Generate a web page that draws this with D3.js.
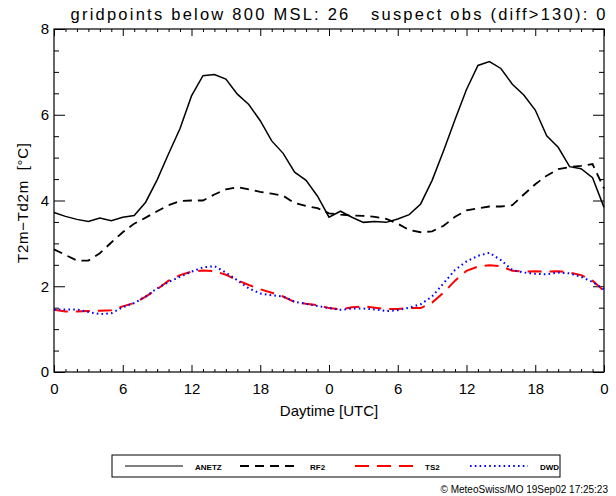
<!DOCTYPE html>
<html>
<head>
<meta charset="utf-8">
<script src="https://cdn.jsdelivr.net/npm/d3@7"></script>
<style>
body { margin: 0; background: #fff; }
svg { display: block; }
.axis text { font-family: "Liberation Sans", Arial, sans-serif; }
</style>
</head>
<body>
<svg id="chart"></svg>
<script>
// hourly values over two days (0..48 h)
var hours = d3.range(0, 49);
var anetz = [3.72,3.63,3.56,3.51,3.59,3.53,3.61,3.65,3.96,4.48,5.09,5.68,6.44,6.91,6.94,6.83,6.48,6.24,5.86,5.39,5.10,4.66,4.47,4.10,3.61,
             3.75,3.61,3.49,3.51,3.49,3.57,3.67,3.92,4.47,5.16,5.89,6.59,7.15,7.24,7.08,6.71,6.46,6.11,5.51,5.24,4.79,4.74,4.53,3.84];
var rf2 = [2.86,2.73,2.60,2.60,2.77,3.02,3.26,3.46,3.60,3.75,3.89,3.99,4.00,4.00,4.14,4.26,4.31,4.26,4.20,4.16,4.11,3.94,3.87,3.82,3.70,
           3.67,3.65,3.64,3.62,3.57,3.46,3.31,3.26,3.28,3.41,3.62,3.77,3.82,3.86,3.86,3.89,4.14,4.38,4.58,4.73,4.78,4.81,4.85,4.28];
var ts2 = [1.45,1.41,1.41,1.42,1.43,1.44,1.53,1.61,1.76,1.93,2.13,2.26,2.34,2.37,2.35,2.27,2.14,2.03,1.93,1.85,1.76,1.63,1.59,1.56,1.49,
           1.46,1.51,1.53,1.50,1.47,1.47,1.49,1.49,1.62,1.85,2.13,2.36,2.46,2.49,2.47,2.36,2.34,2.35,2.34,2.35,2.32,2.26,2.13,1.89];
var dwd = [1.45,1.46,1.46,1.40,1.35,1.37,1.51,1.61,1.76,1.95,2.10,2.22,2.34,2.44,2.47,2.32,2.14,1.95,1.83,1.79,1.76,1.64,1.59,1.54,1.49,
           1.45,1.48,1.48,1.46,1.42,1.44,1.50,1.58,1.76,2.07,2.38,2.58,2.71,2.78,2.61,2.38,2.32,2.29,2.28,2.32,2.30,2.22,2.10,1.93];

var seriesNames = ["ANETZ", "RF2", "TS2", "DWD"];
var xMajor = [0, 6, 12, 18, 24, 30, 36, 42, 48];
var yMajor = [0, 2, 4, 6, 8];
var title = "gridpoints below 800 MSL: 26   suspect obs (diff>130): 0";

var width = 616, height = 496;
var margin = {top: 29, right: 12, bottom: 124, left: 54};
var w = width - margin.left - margin.right;
var h = height - margin.top - margin.bottom;

var svg = d3.select("#chart").attr("width", width).attr("height", height);
var chart = svg.append("g").attr("transform", "translate(" + margin.left + "," + margin.top + ")");

var x = d3.scaleLinear().domain([0, 48]).range([0, w]);
var y = d3.scaleLinear().domain([0, 8]).range([h, 0]);

var xMinor = d3.range(0, 49).filter(function(d) { return d % 6 != 0; });
var yMinor = d3.range(0, 8.01, 0.5).filter(function(d) { return d % 2 != 0; });

function styleAxis(g) {
    g.select(".domain").remove();
    g.selectAll("line").attr("stroke", "#000").attr("stroke-width", 1);
    g.selectAll("text").attr("fill", "#000");
}

// bottom axis, labels in hour of day
chart.append("g").attr("class", "axis").attr("transform", "translate(0," + h + ")")
    .call(d3.axisTop(x).tickValues(xMajor).tickSize(7).tickFormat(""))
    .call(styleAxis);
chart.append("g").attr("class", "axis").attr("transform", "translate(0," + h + ")")
    .call(d3.axisTop(x).tickValues(xMinor).tickSize(3).tickFormat(""))
    .call(styleAxis);
chart.append("g").attr("class", "axis").attr("transform", "translate(0," + (h + 8) + ")")
    .call(d3.axisBottom(x).tickValues(xMajor).tickSize(0).tickPadding(3).tickFormat(function(d) { return d % 24; }))
    .call(styleAxis)
    .selectAll("text").style("font-size", "15px");

// top axis
chart.append("g").attr("class", "axis")
    .call(d3.axisBottom(x).tickValues(xMajor).tickSize(7).tickFormat(""))
    .call(styleAxis);
chart.append("g").attr("class", "axis")
    .call(d3.axisBottom(x).tickValues(xMinor).tickSize(3).tickFormat(""))
    .call(styleAxis);

// left axis
chart.append("g").attr("class", "axis")
    .call(d3.axisRight(y).tickValues(yMajor).tickSize(11).tickFormat(""))
    .call(styleAxis);
chart.append("g").attr("class", "axis")
    .call(d3.axisRight(y).tickValues(yMinor).tickSize(5).tickFormat(""))
    .call(styleAxis);
chart.append("g").attr("class", "axis")
    .call(d3.axisLeft(y).tickValues(yMajor).tickSize(0).tickPadding(5))
    .call(styleAxis)
    .selectAll("text").style("font-size", "15px");

// right axis
chart.append("g").attr("class", "axis").attr("transform", "translate(" + w + ",0)")
    .call(d3.axisLeft(y).tickValues(yMajor).tickSize(11).tickFormat(""))
    .call(styleAxis);
chart.append("g").attr("class", "axis").attr("transform", "translate(" + w + ",0)")
    .call(d3.axisLeft(y).tickValues(yMinor).tickSize(5).tickFormat(""))
    .call(styleAxis);

chart.append("rect")
    .attr("width", w).attr("height", h)
    .attr("fill", "none").attr("stroke", "#000").attr("stroke-width", 1.2);

// lines
var styles = [
    {data: anetz, color: "#000", dash: null, sw: 1.5},
    {data: rf2, color: "#000", dash: "9,6", sw: 1.8},
    {data: ts2, color: "#ff0000", dash: "14,8", sw: 2},
    {data: dwd, color: "#0000ff", dash: "1.6,3.2", sw: 2}
];

var line = d3.line()
    .x(function(d, i) { return x(hours[i]); })
    .y(function(d) { return y(d); });

styles.forEach(function(s) {
    chart.append("path")
        .datum(s.data)
        .attr("fill", "none")
        .attr("stroke", s.color)
        .attr("stroke-width", s.sw)
        .attr("stroke-dasharray", s.dash)
        .attr("d", line);
});

// titles
svg.append("text")
    .attr("x", 338).attr("y", 20)
    .attr("text-anchor", "middle")
    .attr("textLength", 535)
    .attr("lengthAdjust", "spacing")
    .style("white-space", "pre")
    .style("font-family", "Liberation Sans, Arial, sans-serif")
    .style("font-size", "16.5px")
    .text(title);

svg.append("text")
    .attr("x", margin.left + w / 2).attr("y", 416)
    .attr("text-anchor", "middle")
    .style("font-family", "Liberation Sans, Arial, sans-serif")
    .style("font-size", "15px")
    .text("Daytime [UTC]");

svg.append("text")
    .attr("transform", "translate(28,203) rotate(-90)")
    .attr("text-anchor", "middle")
    .attr("textLength", 120)
    .attr("lengthAdjust", "spacing")
    .style("white-space", "pre")
    .style("font-family", "Liberation Sans, Arial, sans-serif")
    .style("font-size", "15px")
    .text("T2m\u2212Td2m  [\u00b0C]");

// legend
var legend = svg.append("g").attr("transform", "translate(112,455)");
legend.append("rect")
    .attr("width", 448).attr("height", 22)
    .attr("fill", "none").attr("stroke", "#000").attr("stroke-width", 1);

var legX = d3.scalePoint().domain(seriesNames).range([13, 358]);
seriesNames.forEach(function(name, i) {
    var s = styles[i];
    legend.append("line")
        .attr("x1", legX(name)).attr("x2", legX(name) + 58)
        .attr("y1", 11).attr("y2", 11)
        .attr("stroke", s.color)
        .attr("stroke-width", i == 0 ? 1.2 : s.sw)
        .attr("stroke-dasharray", s.dash);
    legend.append("text")
        .attr("x", legX(name) + 70).attr("y", 14.5)
        .style("font-family", "Liberation Sans, Arial, sans-serif")
        .style("font-size", "8px")
        .style("font-weight", "bold")
        .text(name);
});

svg.append("text")
    .attr("x", 608).attr("y", 493)
    .attr("text-anchor", "end")
    .style("font-family", "Liberation Sans, Arial, sans-serif")
    .style("font-size", "10px")
    .text("\u00a9 MeteoSwiss/MO 19Sep02 17:25:23");
</script>
</body>
</html>
